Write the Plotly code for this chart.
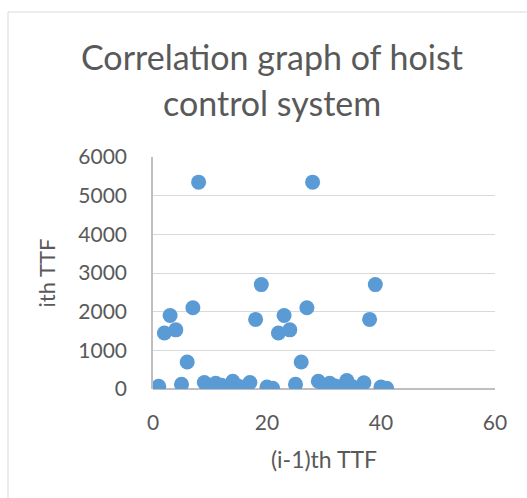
import plotly.graph_objects as go

# (i-1)th time-to-failure index and the ith time-to-failure value
prev_ttf = [1, 2, 3, 4, 5, 6, 7, 8, 9, 10, 11, 12, 13, 14, 15, 16, 17, 18, 19, 20,
            21, 22, 23, 24, 25, 26, 27, 28, 29, 30, 31, 32, 33, 34, 35, 36, 37, 38, 39, 40, 41]
ith_ttf = [70, 1450, 1900, 1530, 120, 700, 2100, 5350, 170, 70, 150, 100, 10, 200, 70, 10, 170, 1800, 2700, 50,
           20, 1450, 1900, 1530, 120, 700, 2100, 5350, 200, 100, 150, 80, 10, 220, 60, 20, 160, 1800, 2700, 50, 20]

x_ticks = [0, 20, 40, 60]
y_ticks = [0, 1000, 2000, 3000, 4000, 5000, 6000]

title_lines = ["Correlation graph of hoist", "control system"]

TEXT = "#595959"
FONT = "Lato, 'Open Sans', sans-serif"

# plot area in pixels
W, H = 527, 498
L, R, T, B = 153, 32, 157, 109
PW, PH = W - L - R, H - T - B


def px_to_paper(px, py):
    return (px - L) / PW, (H - B - py) / PH


fig = go.Figure(
    go.Scatter(
        x=prev_ttf,
        y=ith_ttf,
        mode="markers",
        marker=dict(size=15, color="#5b9bd5", line=dict(width=0)),
        hoverinfo="x+y",
    )
)

# two-line chart heading
annotations = []
for text, py in zip(title_lines, [56, 102]):
    ax, ay = px_to_paper(272, py)
    annotations.append(
        dict(
            text=text,
            x=ax,
            y=ay,
            xref="paper",
            yref="paper",
            xanchor="center",
            yanchor="middle",
            showarrow=False,
            font=dict(family=FONT, size=34, color=TEXT),
        )
    )

bx0, by1 = px_to_paper(8, 12)

fig.update_layout(
    width=W,
    height=H,
    margin=dict(l=L, r=R, t=T, b=B),
    paper_bgcolor="white",
    plot_bgcolor="white",
    showlegend=False,
    font=dict(family=FONT, color=TEXT, size=21),
    annotations=annotations,
    xaxis=dict(
        range=[0, 60],
        tickvals=x_ticks,
        showgrid=False,
        zeroline=False,
        showline=False,
        ticks="",
        ticklabelstandoff=19,
        tickfont=dict(size=21, color=TEXT),
        title=dict(text="(i-1)th TTF", font=dict(size=23, color=TEXT), standoff=18),
    ),
    yaxis=dict(
        range=[0, 6000],
        tickvals=y_ticks,
        showgrid=True,
        gridcolor="#d9d9d9",
        gridwidth=1,
        zeroline=True,
        zerolinecolor="#bfbfbf",
        zerolinewidth=1.5,
        showline=True,
        linecolor="#bfbfbf",
        linewidth=1.5,
        ticks="",
        ticklabelstandoff=20,
        tickfont=dict(size=21, color=TEXT),
        title=dict(text="ith TTF", font=dict(size=22, color=TEXT), standoff=17),
    ),
    shapes=[
        dict(
            type="rect",
            xref="paper",
            yref="paper",
            x0=bx0,
            x1=1.3,
            y0=-1.0,
            y1=by1,
            line=dict(color="#d9d9d9", width=1),
            fillcolor="rgba(0,0,0,0)",
            layer="below",
        )
    ],
)

fig.write_html("out.html")
